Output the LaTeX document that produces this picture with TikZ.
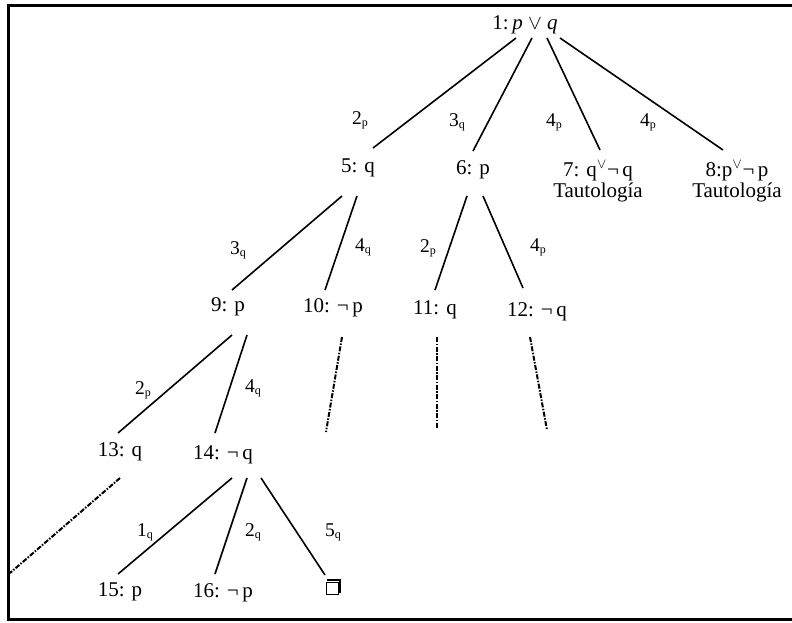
\documentclass[tikz,border=0pt]{standalone}
\usepackage{fontspec}
\setmainfont{Liberation Serif}
\usetikzlibrary{calc}
\newcommand{\lb}[2]{#1\raisebox{-2pt}{\fontsize{12}{12}\selectfont #2}}
\begin{document}
\begin{tikzpicture}[x=1pt,y=-1pt,
  txt/.style={font=\fontsize{21}{21}\selectfont, inner sep=0pt},
  lab/.style={font=\fontsize{19.5}{20}\selectfont, inner sep=0pt},
  edge/.style={line width=1.6pt},
  dsh/.style={line width=2pt, dash pattern=on 5pt off 1.5pt on 1.5pt off 1.5pt},
  frame/.style={line width=3pt}]
\useasboundingbox (0,0) rectangle (792,622);
\draw[frame] (792,5) -- (8,5) -- (8,619) -- (792,619);
% nodes
\node[txt] (n1) at (525,25) {1:\,\textit{p} $\vee$ \textit{q}};
\node[txt] (n5) at (358,168) {5: q};
\node[txt] (n6) at (473,170) {6: p};
\node[txt,align=center] (n7) at (598,181) {7: q\textsuperscript{$\vee$}¬\,q\\Tautología};
\node[txt,align=center] (n8) at (737,181) {8:p\textsuperscript{$\vee$}¬\,p\\Tautología};
\node[txt] (n9) at (228,307) {9: p};
\node[txt] (n10) at (333,308) {10: ¬\,p};
\node[txt] (n11) at (435,310) {11: q};
\node[txt] (n12) at (537,312) {12: ¬\,q};
\node[txt] (n13) at (120,452) {13: q};
\node[txt] (n14) at (223,455) {14: ¬\,q};
\node[txt] (n15) at (120,592) {15: p};
\node[txt] (n16) at (223,593) {16: ¬\,p};
\node[draw, line width=0.9pt, minimum size=12pt, inner sep=0pt] (n17) at (332,588) {};
\draw[line width=2pt] ([xshift=1.5pt,yshift=1.5pt]n17.north west) -- ([xshift=1.5pt,yshift=1.5pt]n17.north east) -- ([xshift=1.5pt,yshift=1.5pt]n17.south east);
% labels
\node[lab] (a1) at (360,120) {\lb{2}{p}};
\node[lab] (a2) at (457,122) {\lb{3}{q}};
\node[lab] (a3) at (554,122) {\lb{4}{p}};
\node[lab] (a4) at (648,122) {\lb{4}{p}};
\node[lab] (b1) at (238,250) {\lb{3}{q}};
\node[lab] (b2) at (363,247) {\lb{4}{q}};
\node[lab] (b3) at (428,248) {\lb{2}{p}};
\node[lab] (b4) at (538,247) {\lb{4}{p}};
\node[lab] (c1) at (143,390) {\lb{2}{p}};
\node[lab] (c2) at (253,388) {\lb{4}{q}};
\node[lab] (d1) at (145,532) {\lb{1}{q}};
\node[lab] (d2) at (253,532) {\lb{2}{q}};
\node[lab] (d3) at (333,532) {\lb{5}{q}};
% edges
\draw[edge] ($(n1)+(-9,13)$) -- ($(n5)+(15,-20)$);
\draw[edge] ($(n1)+(7,13)$) -- ($(n6)+(0,-19)$);
\draw[edge] ($(n1)+(22,13)$) -- ($(n7)+(2,-31)$);
\draw[edge] ($(n1)+(35,13)$) -- ($(n8)+(-14,-31)$);
\draw[edge] ($(n5)+(-16,28)$) -- ($(n9)+(4,-17)$);
\draw[edge] ($(n5)+(-1,28)$) -- ($(n10)+(-8,-18)$);
\draw[edge] ($(n6)+(-6,26)$) -- ($(n11)+(0,-20)$);
\draw[edge] ($(n6)+(10,26)$) -- ($(n12)+(-14,-24)$);
\draw[edge] ($(n9)+(4,28)$) -- ($(n13)+(-2,-19)$);
\draw[edge] ($(n9)+(19,28)$) -- ($(n14)+(-8,-22)$);
\draw[edge] ($(n14)+(9,23)$) -- ($(n15)+(-2,-18)$);
\draw[edge] ($(n14)+(24,23)$) -- ($(n16)+(-8,-19)$);
\draw[edge] ($(n14)+(38,23)$) -- ($(n17)+(-7,-13)$);
% dashed continuations
\coordinate (e10) at (326,432);
\coordinate (e11) at (437,428);
\coordinate (e12) at (547,430);
\coordinate (e13) at (10,573);
\draw[dsh] ($(n10)+(9,29)$) -- (e10);
\draw[dsh] ($(n11)+(2,27)$) -- (e11);
\draw[dsh] ($(n12)+(-7,25)$) -- (e12);
\draw[dsh] ($(n13)+(0,26)$) -- (e13);
\end{tikzpicture}
\end{document}
